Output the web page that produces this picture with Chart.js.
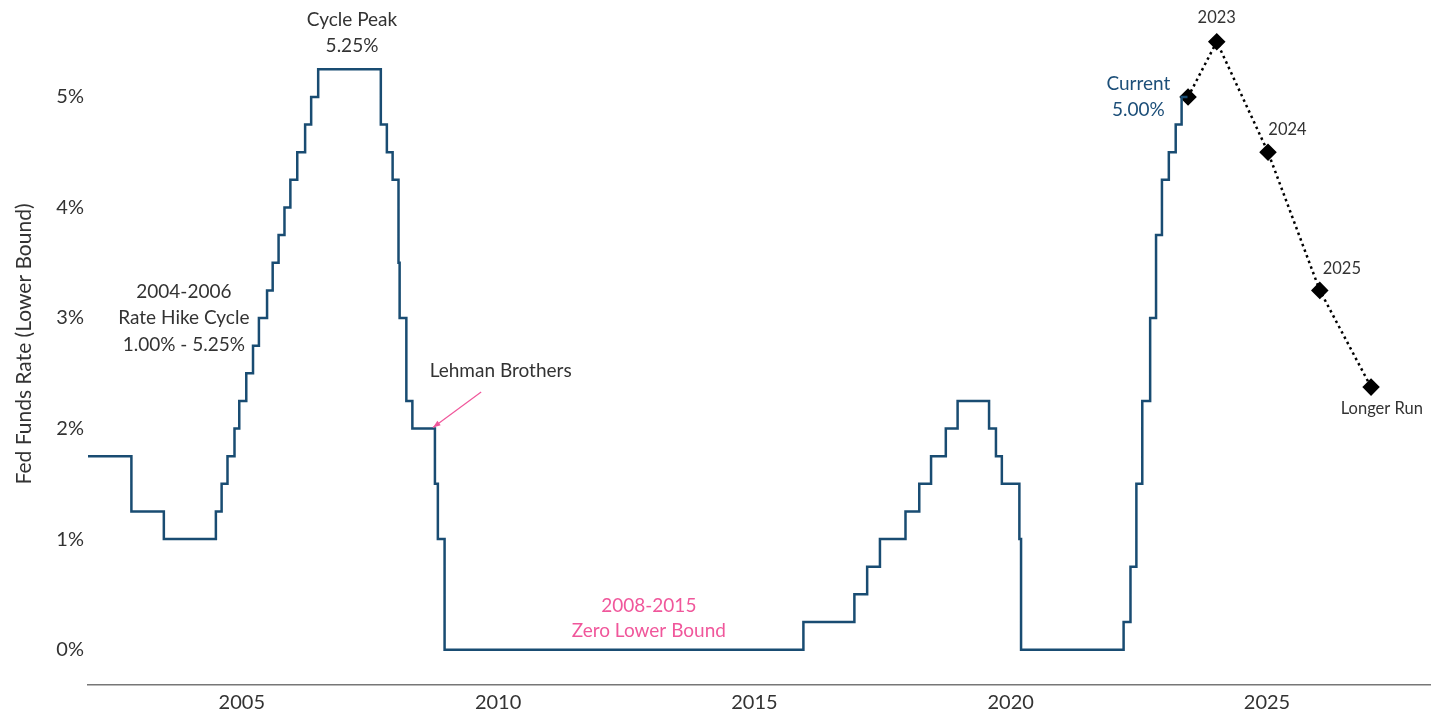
<html>
<head>
<meta charset="utf-8">
<title>Fed Funds Rate</title>
<script src="https://cdn.jsdelivr.net/npm/chart.js@4.4.0/dist/chart.umd.min.js"></script>
<style>
  html, body { margin: 0; padding: 0; background: #fff; }
  #wrap { width: 1433px; height: 713px; }
</style>
<script>
// fed funds target (lower bound), date of change -> new rate
var changeDates = ['2001-12-11','2002-11-06','2003-06-25','2004-06-30','2004-08-10','2004-09-21','2004-11-10','2004-12-14',
  '2005-02-02','2005-03-22','2005-05-03','2005-06-30','2005-08-09','2005-09-20','2005-11-01','2005-12-13',
  '2006-01-31','2006-03-28','2006-05-10','2006-06-29','2007-09-18','2007-10-31','2007-12-11','2008-01-22',
  '2008-01-30','2008-03-18','2008-04-30','2008-10-08','2008-10-29','2008-12-16','2015-12-16','2016-12-14',
  '2017-03-15','2017-06-14','2017-12-13','2018-03-21','2018-06-13','2018-09-26','2018-12-19','2019-07-31',
  '2019-09-18','2019-10-30','2020-03-03','2020-03-15','2022-03-16','2022-05-04','2022-06-15','2022-07-27',
  '2022-09-21','2022-11-02','2022-12-14','2023-02-01','2023-03-22','2023-05-03','2023-06-14']
var changeRates = [1.75,1.25,1.00,1.25,1.50,1.75,2.00,2.25,
  2.50,2.75,3.00,3.25,3.50,3.75,4.00,4.25,
  4.50,4.75,5.00,5.25,4.75,4.50,4.25,3.50,
  3.00,2.25,2.00,1.50,1.00,0.00,0.25,0.50,
  0.75,1.00,1.25,1.50,1.75,2.00,2.25,2.00,
  1.75,1.50,1.00,0.00,0.25,0.75,1.50,2.25,
  3.00,3.75,4.25,4.50,4.75,5.00,5.00]

// projections (median dots), plotted at year positions
var projX = [2023.46, 2024.02, 2025.02, 2026.03, 2027.03]
var projY = [5.00, 5.50, 4.50, 3.25, 2.375]

var yTicks = [0, 1, 2, 3, 4, 5]
var xTicks = [2005, 2010, 2015, 2020, 2025]

// text notes: [text, x (year), y (rate), colour, size]
var notes = [
  ['Cycle Peak', 2007.15, 5.70, '#333', 19],
  ['5.25%', 2007.15, 5.46, '#333', 19],
  ['2004-2006', 2003.87, 3.24, '#333', 19],
  ['Rate Hike Cycle', 2003.87, 3.00, '#333', 19],
  ['1.00% - 5.25%', 2003.87, 2.76, '#333', 19],
  ['Lehman Brothers', 2010.05, 2.52, '#333', 19],
  ['2008-2015', 2012.94, 0.40, '#f0579b', 19],
  ['Zero Lower Bound', 2012.94, 0.17, '#f0579b', 19],
  ['Current', 2022.49, 5.12, '#1d4f79', 19],
  ['5.00%', 2022.49, 4.88, '#1d4f79', 19],
  ['2023', 2024.02, 5.72, '#333', 16.5],
  ['2024', 2025.40, 4.70, '#333', 16.5],
  ['2025', 2026.46, 3.45, '#333', 16.5],
  ['Longer Run', 2027.24, 2.18, '#333', 16.5]
]

var toYear = (s) => {
    var d = new Date(s + 'T00:00:00Z')
    var y = d.getUTCFullYear()
    var start = Date.UTC(y, 0, 1), end = Date.UTC(y + 1, 0, 1)
    return y + (d.getTime() - start) / (end - start)
}

var notesPlugin = {
    id: 'notes',
    afterDatasetsDraw: (chart) => {
        var ctx = chart.ctx
        var xs = chart.scales.x, ys = chart.scales.y
        ctx.save()
        ctx.textAlign = 'center'
        ctx.textBaseline = 'middle'
        notes.forEach((n) => {
            ctx.font = n[4] + 'px Lato, "Open Sans", sans-serif'
            ctx.fillStyle = n[3]
            ctx.fillText(n[0], xs.getPixelForValue(n[1]), ys.getPixelForValue(n[2]))
        })
        // Lehman arrow
        var x1 = xs.getPixelForValue(2009.67), y1 = ys.getPixelForValue(2.33)
        var x2 = xs.getPixelForValue(2008.73), y2 = ys.getPixelForValue(2.01)
        ctx.strokeStyle = '#f0579b'
        ctx.fillStyle = '#f0579b'
        ctx.lineWidth = 1.2
        ctx.beginPath()
        ctx.moveTo(x1, y1)
        ctx.lineTo(x2, y2)
        ctx.stroke()
        var a = Math.atan2(y2 - y1, x2 - x1)
        ctx.beginPath()
        ctx.moveTo(x2, y2)
        ctx.lineTo(x2 - 8 * Math.cos(a - 0.35), y2 - 8 * Math.sin(a - 0.35))
        ctx.lineTo(x2 - 8 * Math.cos(a + 0.35), y2 - 8 * Math.sin(a + 0.35))
        ctx.closePath()
        ctx.fill()
        ctx.restore()
    }
}

window.onload = () => {
    var histPts = changeDates.map((d, i) => ({ x: toYear(d), y: changeRates[i] }))
    var projPts = projX.map((x, i) => ({ x: x, y: projY[i] }))

    new Chart(document.getElementById('grafica'), {
        type: 'line',
        data: {
            datasets: [{
                label: 'Fed Funds',
                data: histPts,
                stepped: true,
                borderColor: '#194c72',
                borderWidth: 2.5,
                pointRadius: 0,
                fill: false
            }, {
                label: 'Projection',
                data: projPts,
                borderColor: '#000',
                borderWidth: 2.5,
                borderDash: [2.5, 3.5],
                pointStyle: 'rectRot',
                pointRadius: 7,
                pointBackgroundColor: '#000',
                pointBorderColor: '#000',
                fill: false
            }]
        },
        options: {
            responsive: false,
            animation: false,
            layout: { autoPadding: false, padding: { top: 3, right: 3, left: 0, bottom: 0 } },
            plugins: { legend: { display: false }, tooltip: { enabled: false } },
            scales: {
                x: {
                    type: 'linear',
                    min: 2002.0,
                    max: 2028.18,
                    afterBuildTicks: (s) => { s.ticks = xTicks.map((v) => ({ value: v })) },
                    afterFit: (s) => { s.height = 28; s.paddingLeft = 0; s.paddingRight = 0 },
                    grid: { display: false, drawTicks: false },
                    border: { display: true, color: '#777', width: 1.5 },
                    ticks: {
                        padding: 6,
                        color: '#333',
                        font: { size: 20, family: 'Lato, "Open Sans", sans-serif' },
                        callback: (v) => String(v)
                    }
                },
                y: {
                    min: -0.32,
                    max: 5.85,
                    afterBuildTicks: (s) => { s.ticks = yTicks.map((v) => ({ value: v })) },
                    afterFit: (s) => { s.width = 88; s.paddingTop = 0; s.paddingBottom = 0 },
                    grid: { display: false, drawTicks: false },
                    border: { display: false },
                    title: {
                        display: true,
                        text: 'Fed Funds Rate (Lower Bound)',
                        color: '#333',
                        font: { size: 21, family: 'Lato, "Open Sans", sans-serif' },
                        padding: { top: 12, bottom: 12 }
                    },
                    ticks: {
                        padding: 4,
                        color: '#333',
                        font: { size: 20, family: 'Lato, "Open Sans", sans-serif' },
                        callback: (v) => v + '%'
                    }
                }
            }
        },
        plugins: [notesPlugin]
    })
}
</script>
</head>
<body>
<div id="wrap"><canvas id="grafica" width="1433" height="713"></canvas></div>
</body>
</html>
